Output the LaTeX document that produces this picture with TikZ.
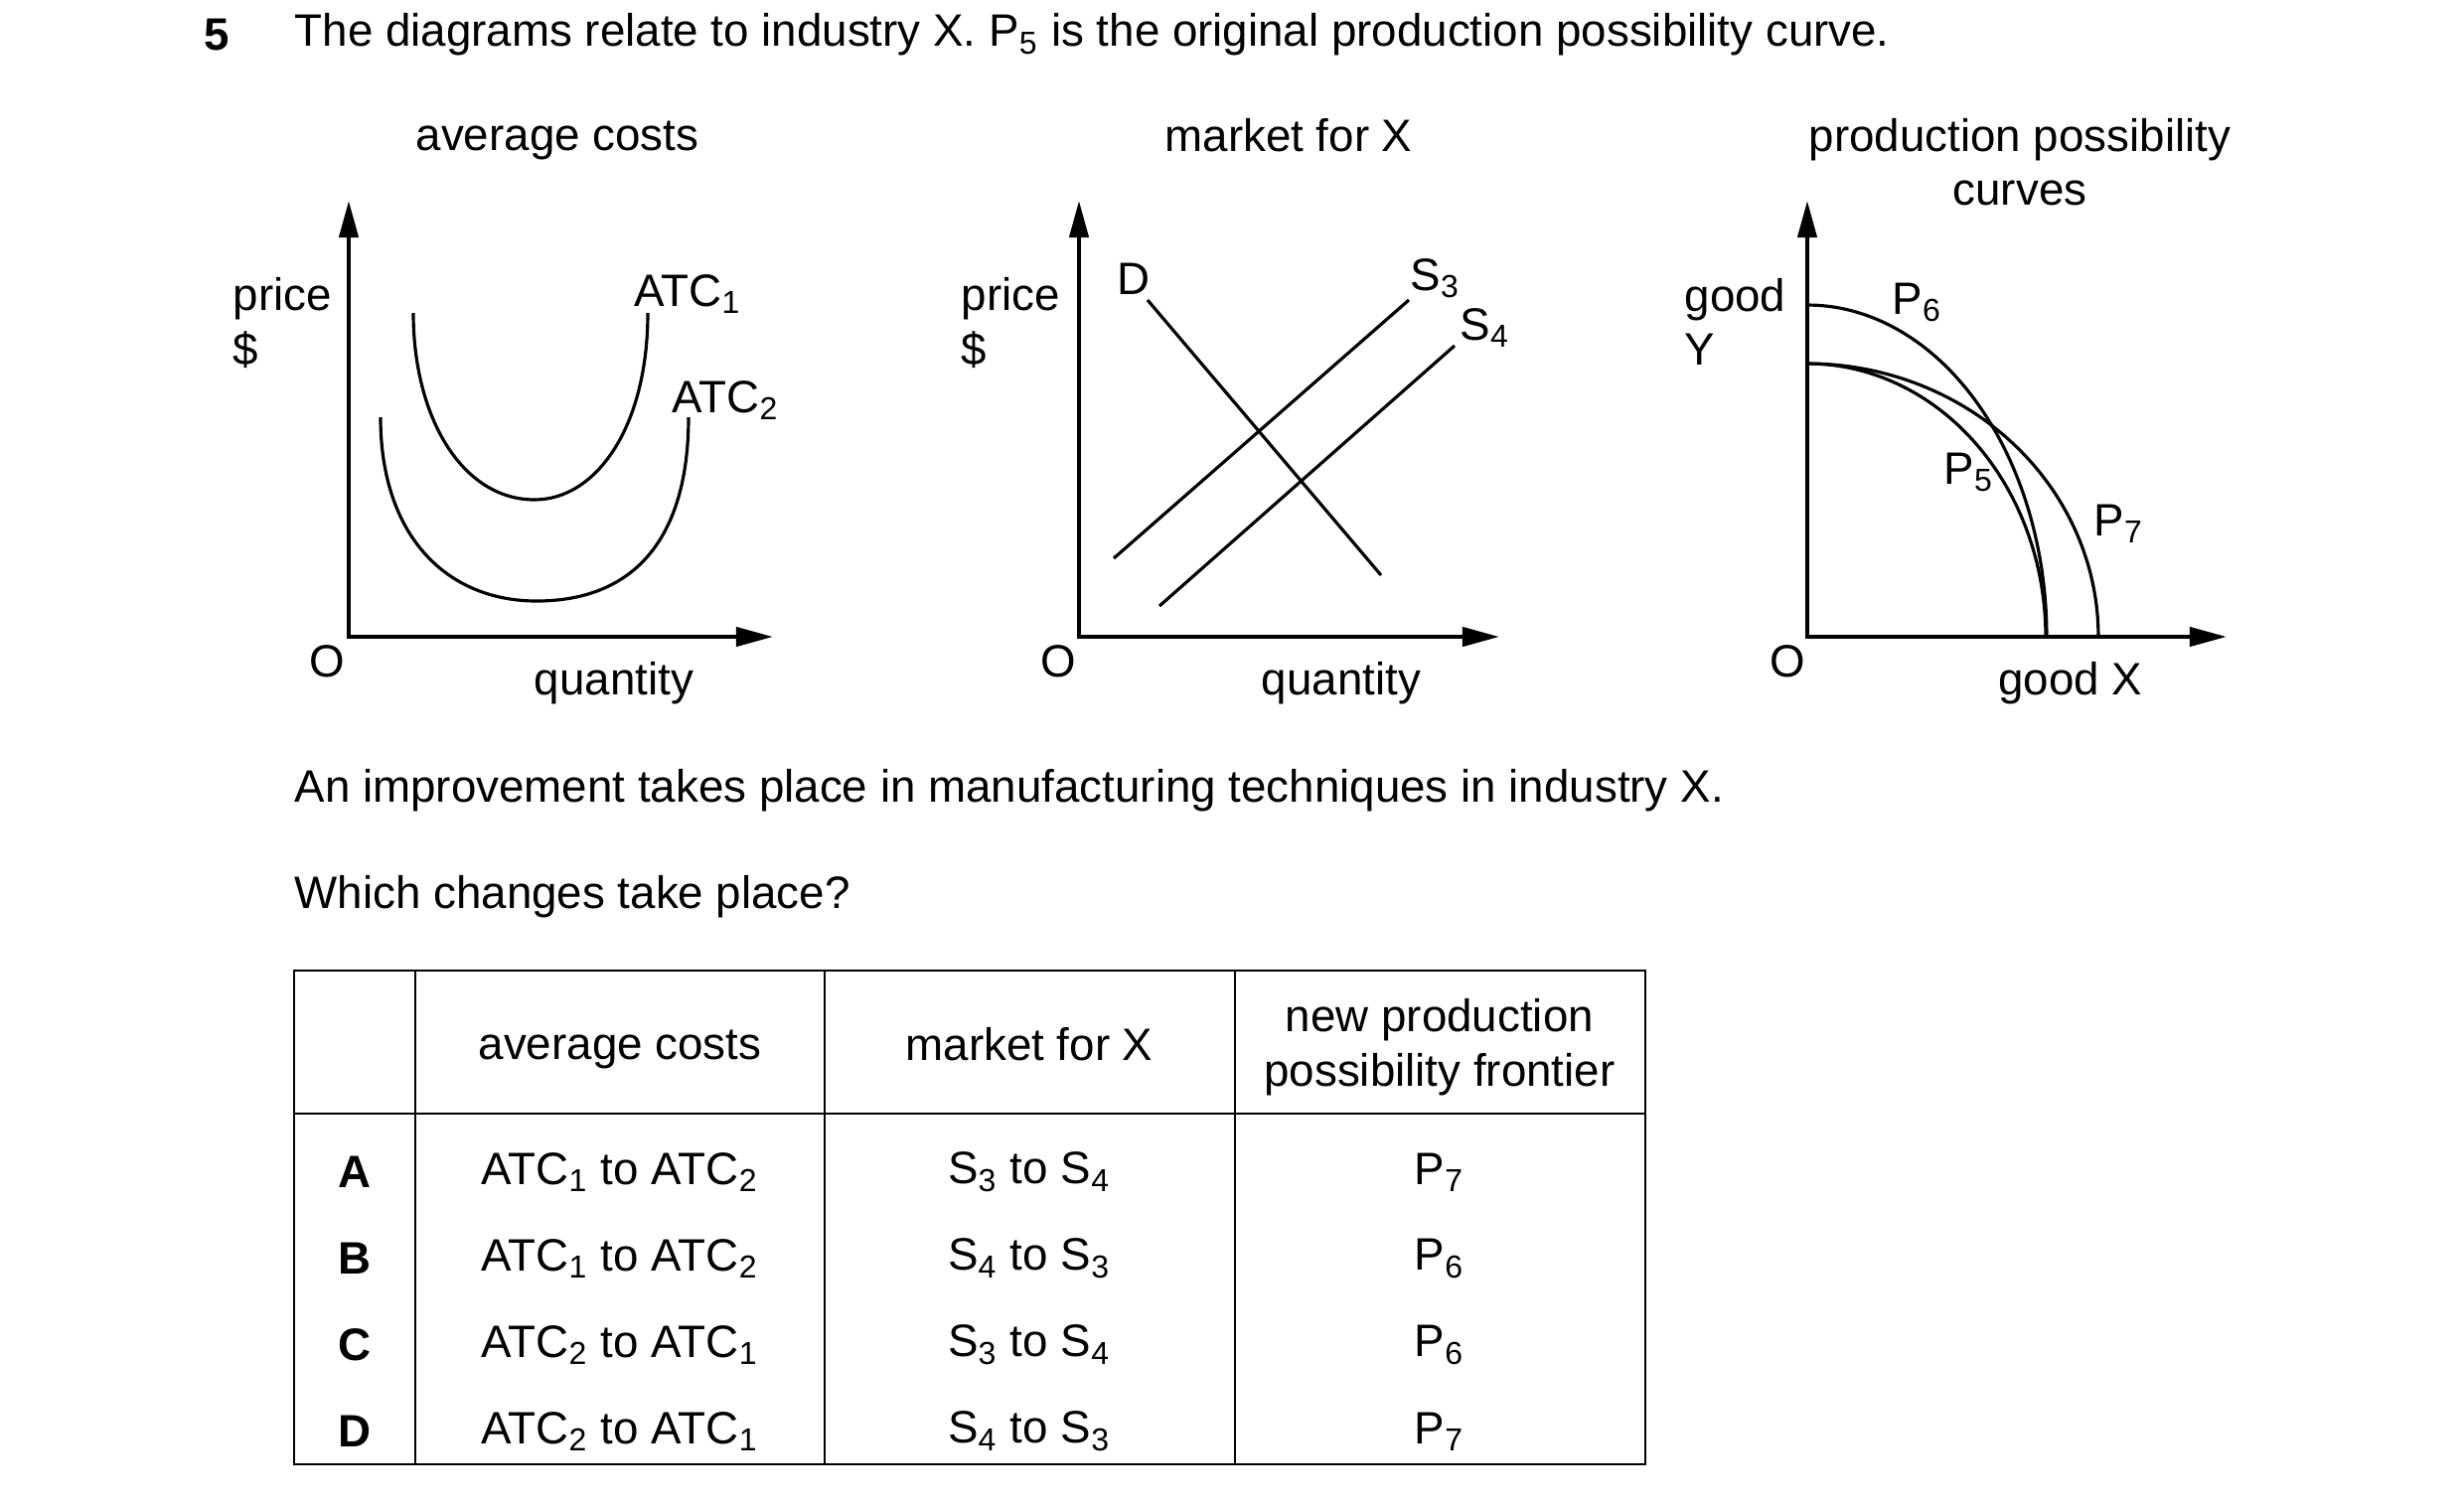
\documentclass[tikz,border=0pt]{standalone}
\usepackage{fontspec}
\setmainfont{Liberation Sans}
\usetikzlibrary{arrows.meta}

\tikzset{
  txt/.style={font=\fontsize{13}{15.5}\selectfont, inner sep=0pt},
  axes/.style={line width=1.2pt, {Triangle[length=3.7mm,width=1.9mm]}-{Triangle[length=3.7mm,width=1.9mm]}},
  curve/.style={line width=0.9pt},
  tabline/.style={line width=0.7pt},
}

\begin{document}
\begin{tikzpicture}[x=0.01cm, y=-0.01cm]
    \useasboundingbox (0,0) rectangle (2480,1514);

    % question
    \node (num) [txt, font=\fontsize{13}{15.5}\selectfont\bfseries] at (218,35) {5};
    \node (title) [txt, anchor=west] at (296,35) {The diagrams relate to industry X. P\textsubscript{5} is the original production possibility curve.};

    % average costs
    \node (ac) [txt] at (561,141) {average costs};
    \draw[axes] (351,202) |- (778,641);
    \node (acy) [txt, align=left, anchor=west] at (234,325) {price\\\$};
    \node (aco) [txt] at (329,666) {O};
    \node (acx) [txt] at (618,688) {quantity};
    \draw[curve] (416,315) .. controls (416,420) and (465,503) .. (538,503)
                           .. controls (600,503) and (652,430) .. (652,315);
    \draw[curve] (383,420) .. controls (383,540) and (450,605) .. (540,605)
                           .. controls (640,605) and (693,540) .. (693,420);
    \node (atc1) [txt, anchor=base west] at (638,308) {ATC\textsubscript{1}};
    \node (atc2) [txt, anchor=base west] at (676,415) {ATC\textsubscript{2}};

    % market for X
    \node (mk) [txt] at (1297,136) {market for X};
    \draw[axes] (1086,202) |- (1509,641);
    \node (mky) [txt, align=left, anchor=west] at (967,325) {price\\\$};
    \node (mko) [txt] at (1065,666) {O};
    \node (mkx) [txt] at (1350,688) {quantity};
    \node (d) [txt] at (1141,281) {D};
    \node (s3) [txt, anchor=base west] at (1419,292) {S\textsubscript{3}};
    \node (s4) [txt, anchor=base west] at (1469,342) {S\textsubscript{4}};
    \draw[curve] (1155,302) -- (1390,579);
    \draw[curve] (1121,562) -- (1418,302);
    \draw[curve] (1167,610) -- (1464,348);

    % production possibility curves
    \node (pp) [txt, align=center] at (2033,163) {production possibility\\curves};
    \draw[axes] (1819,202) |- (2241,641);
    \node (ppy) [txt, align=left, anchor=west] at (1695,324) {good\\Y};
    \node (ppo) [txt] at (1799,666) {O};
    \node (ppx) [txt] at (2084,688) {good X};
    \draw[curve] plot[domain=0:90, smooth, samples=40] ({1819+240*cos(\x)}, {641-275*sin(\x)});
    \draw[curve] plot[domain=0:90, smooth, samples=40] ({1819+241*cos(\x)}, {641-334*sin(\x)});
    \draw[curve] plot[domain=0:90, smooth, samples=40] ({1819+293*cos(\x)}, {641-275*sin(\x)});
    \node (p6) [txt, anchor=base west] at (1904,316) {P\textsubscript{6}};
    \node (p5) [txt, anchor=base west] at (1956,487) {P\textsubscript{5}};
    \node (p7) [txt, anchor=base west] at (2107,539) {P\textsubscript{7}};

    % question text
    \node (q1) [txt, anchor=west] at (296,796) {An improvement takes place in manufacturing techniques in industry X.};
    \node (q2) [txt, anchor=west] at (296,903) {Which changes take place?};

    % table
    \draw[tabline] (296,977) rectangle (1656,1474);
    \draw[tabline] (296,1121) -- (1656,1121);
    \draw[tabline] (418,977) -- (418,1474);
    \draw[tabline] (830,977) -- (830,1474);
    \draw[tabline] (1243,977) -- (1243,1474);
    \node (h1) [txt] at (624,1056) {average costs};
    \node (h2) [txt] at (1036,1051) {market for X};
    \node (h3) [txt, align=center] at (1449,1054) {new production\\possibility frontier};

    \node (ra) [txt, font=\fontsize{13}{15.5}\selectfont\bfseries] at (357,1180) {A};
    \node (rb) [txt, font=\fontsize{13}{15.5}\selectfont\bfseries] at (357,1267) {B};
    \node (rc) [txt, font=\fontsize{13}{15.5}\selectfont\bfseries] at (357,1354) {C};
    \node (rd) [txt, font=\fontsize{13}{15.5}\selectfont\bfseries] at (357,1441) {D};

    \node (a1) [txt] at (624,1180) {ATC\textsubscript{1} to ATC\textsubscript{2}};
    \node (b1) [txt] at (624,1267) {ATC\textsubscript{1} to ATC\textsubscript{2}};
    \node (c1) [txt] at (624,1354) {ATC\textsubscript{2} to ATC\textsubscript{1}};
    \node (d1) [txt] at (624,1441) {ATC\textsubscript{2} to ATC\textsubscript{1}};

    \node (a2) [txt] at (1036,1180) {S\textsubscript{3} to S\textsubscript{4}};
    \node (b2) [txt] at (1036,1267) {S\textsubscript{4} to S\textsubscript{3}};
    \node (c2) [txt] at (1036,1354) {S\textsubscript{3} to S\textsubscript{4}};
    \node (d2) [txt] at (1036,1441) {S\textsubscript{4} to S\textsubscript{3}};

    \node (a3) [txt] at (1449,1180) {P\textsubscript{7}};
    \node (b3) [txt] at (1449,1267) {P\textsubscript{6}};
    \node (c3) [txt] at (1449,1354) {P\textsubscript{6}};
    \node (d3) [txt] at (1449,1441) {P\textsubscript{7}};
\end{tikzpicture}
\end{document}
